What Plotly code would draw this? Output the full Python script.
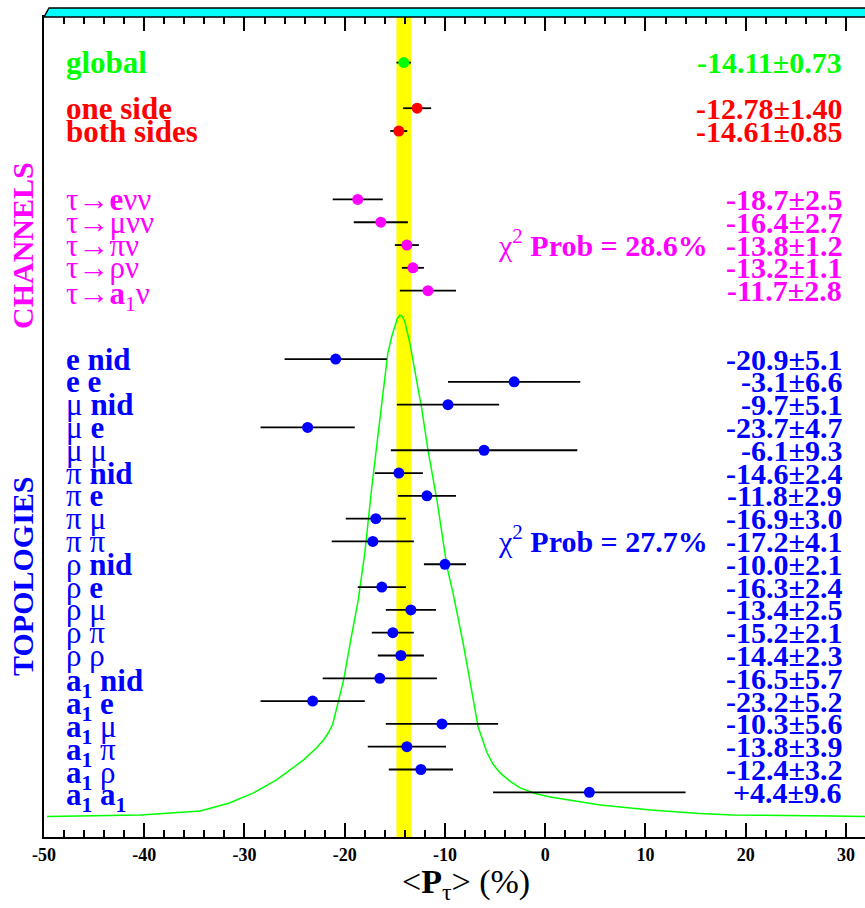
import plotly.graph_objects as go

# ---------------- data ----------------
global_labels = ["global"]
global_vals = [-14.11]
global_errs = [0.73]

side_labels = ["one side", "both sides"]
side_vals = [-12.78, -14.61]
side_errs = [1.40, 0.85]

channel_labels = ["τ→<b>e</b>νν", "τ→μνν", "τ→πν", "τ→ρν", "τ→<b>a</b><sub>1</sub>ν"]
channel_vals = [-18.7, -16.4, -13.8, -13.2, -11.7]
channel_errs = [2.5, 2.7, 1.2, 1.1, 2.8]
channel_chi2 = "28.6%"

topo_labels = ["<b>e nid</b>", "<b>e e</b>", "μ <b>nid</b>", "μ <b>e</b>", "μ μ",
               "π <b>nid</b>", "π <b>e</b>", "π μ", "π π",
               "ρ <b>nid</b>", "ρ <b>e</b>", "ρ μ", "ρ π", "ρ ρ",
               "<b>a<sub>1</sub> nid</b>", "<b>a<sub>1</sub> e</b>", "<b>a<sub>1</sub></b> μ",
               "<b>a<sub>1</sub></b> π", "<b>a<sub>1</sub></b> ρ", "<b>a<sub>1</sub> a<sub>1</sub></b>"]
topo_vals = [-20.9, -3.1, -9.7, -23.7, -6.1, -14.6, -11.8, -16.9, -17.2, -10.0,
             -16.3, -13.4, -15.2, -14.4, -16.5, -23.2, -10.3, -13.8, -12.4, 4.4]
topo_errs = [5.1, 6.6, 5.1, 4.7, 9.3, 2.4, 2.9, 3.0, 4.1, 2.1,
             2.4, 2.5, 2.1, 2.3, 5.7, 5.2, 5.6, 3.9, 3.2, 9.6]
topo_chi2 = "27.7%"

# combined probability curve (height relative to peak)
curve_x = [-49.7, -40.4, -34.4, -31.5, -29.1, -26.8, -24.1, -22.8, -22.1, -21.6, -21.2, -20.7,
           -20.1, -19.4, -18.65, -18.0, -17.3, -16.5, -15.7, -15.3, -15.0, -14.75, -14.5, -14.25, -14.0,
           -13.5, -12.3, -11.7, -10.8, -9.8, -9.2, -8.2, -7.3, -6.7, -6.2, -5.8,
           -5.2, -4.5, -3.5, -2.5, -1.0, 0.5, 5.5, 10.5, 15.4, 18.7, 28.7, 31.9]
curve_y = [0.0, 0.003, 0.011, 0.027, 0.047, 0.073, 0.113, 0.137, 0.153, 0.168, 0.184, 0.227,
           0.273, 0.352, 0.432, 0.525, 0.657, 0.791, 0.924, 0.958, 0.980, 0.993, 1.0, 0.997, 0.986,
           0.944, 0.811, 0.731, 0.631, 0.498, 0.446, 0.347, 0.247, 0.179, 0.150, 0.127,
           0.104, 0.087, 0.070, 0.057, 0.046, 0.039, 0.023, 0.013, 0.006, 0.003, 0.001, 0.0]

x_tick_vals = [-50, -40, -30, -20, -10, 0, 10, 20, 30]
x_tick_text = ["-50", "-40", "-30", "-20", "-10", "0", "10", "20", "30"]

# ---------------- layout helpers ----------------
GREEN, RED, MAG, BLUE = "#00ff00", "#ff0000", "#ff00ff", "#0000ff"
FONT = "Liberation Serif"
W, H = 865, 908
ML, MR, MT, MB = 44, 0, 17, 71

# row positions (rows of the list)
global_rows = [-13]
side_rows = [-11 + i for i in range(len(side_labels))]
channel_rows = [-7 + i for i in range(len(channel_labels))]
topo_rows = [0 + i for i in range(len(topo_labels))]

fig = go.Figure()

# curve on primary y
fig.add_trace(go.Scatter(x=curve_x, y=curve_y, mode="lines", line=dict(color=GREEN, width=1.5),
                         yaxis="y", hoverinfo="skip", showlegend=False))


def add_points(vals, errs, rows, color):
    fig.add_trace(go.Scatter(
        x=vals, y=rows, mode="markers", yaxis="y2",
        marker=dict(color=color, size=11, line=dict(width=0)),
        error_x=dict(type="data", array=errs, color="black", thickness=1.8, width=0),
        showlegend=False))


add_points(global_vals, global_errs, global_rows, GREEN)
add_points(side_vals, side_errs, side_rows, RED)
add_points(channel_vals, channel_errs, channel_rows, MAG)
add_points(topo_vals, topo_errs, topo_rows, BLUE)

ann = []
LX = (64 - ML) / (W - ML - MR)
RX = (844 - ML) / (W - ML - MR)


def label(text, row, color, size=31, shift=0):
    ann.append(dict(text=text, x=LX, xref="paper", y=row, yref="y2", xanchor="left", yanchor="middle",
                    showarrow=False, yshift=shift, font=dict(family=FONT, size=size, color=color)))


def value(text, row, color):
    ann.append(dict(text="<b>" + text + "</b>", x=RX, xref="paper", y=row, yref="y2", xanchor="right",
                    yanchor="middle", showarrow=False, font=dict(family=FONT, size=30, color=color)))


for lab, v, e, r in zip(global_labels, global_vals, global_errs, global_rows):
    label("<b>" + lab + "</b>", r, GREEN)
    value(f"{v:.2f}±{e:.2f}", r, GREEN)
for lab, v, e, r in zip(side_labels, side_vals, side_errs, side_rows):
    label("<b>" + lab + "</b>", r, RED)
    value(f"{v:.2f}±{e:.2f}", r, RED)
for lab, v, e, r in zip(channel_labels, channel_vals, channel_errs, channel_rows):
    label(lab, r, MAG, shift=(-5 if "<sub>" in lab else 0))
    value(f"{v:.1f}±{e:.1f}", r, MAG)
for lab, v, e, r in zip(topo_labels, topo_vals, topo_errs, topo_rows):
    label(lab, r, BLUE, shift=(-5 if "<sub>" in lab else 0))
    txt = f"{v:+.1f}±{e:.1f}" if v > 0 else f"{v:.1f}±{e:.1f}"
    value(txt, r, BLUE)

# chi2 annotations
CX = (496 - ML) / (W - ML - MR)
ann.append(dict(text="χ<sup>2</sup> <b>Prob = " + channel_chi2 + "</b>", x=CX, xref="paper", y=channel_rows[2],
                yref="y2", xanchor="left", yanchor="middle", showarrow=False, yshift=2,
                font=dict(family=FONT, size=30, color=MAG)))
ann.append(dict(text="χ<sup>2</sup> <b>Prob = " + topo_chi2 + "</b>", x=CX, xref="paper", y=topo_rows[8],
                yref="y2", xanchor="left", yanchor="middle", showarrow=False, yshift=2,
                font=dict(family=FONT, size=30, color=BLUE)))

# group titles (vertical)
PW, PH = W - ML - MR, H - MT - MB
ann.append(dict(text="<b>CHANNELS</b>", x=(22 - ML) / PW, xref="paper", y=(H - MB - 246) / PH, yref="paper",
                textangle=-90, showarrow=False, xanchor="center", yanchor="middle",
                font=dict(family=FONT, size=30, color=MAG)))
ann.append(dict(text="<b>TOPOLOGIES</b>", x=(22 - ML) / PW, xref="paper", y=(H - MB - 576) / PH, yref="paper",
                textangle=-90, showarrow=False, xanchor="center", yanchor="middle",
                font=dict(family=FONT, size=30, color=BLUE)))

# x axis title
ann.append(dict(text="&lt;<b>P</b><sub>τ</sub>&gt; (%)", x=(466 - ML) / PW, xref="paper", y=(H - MB - 884) / PH,
                yref="paper", showarrow=False, xanchor="center", yanchor="middle",
                font=dict(family=FONT, size=34, color="black")))

shapes = [
    dict(type="rect", xref="x", yref="paper", x0=global_vals[0] - global_errs[0], x1=global_vals[0] + global_errs[0],
         y0=0, y1=1, fillcolor="#ffff00", line=dict(width=0), layer="below"),
    dict(type="path", xref="paper", yref="paper",
         path=f"M 0 1 L {5/PW} {1+9/PH} L 1.02 {1+9/PH} L 1.02 1 Z",
         fillcolor="#00ffff", line=dict(color="black", width=1.5), layer="above"),
]

fig.update_layout(
    width=W, height=H, margin=dict(l=ML, r=MR, t=MT, b=MB),
    paper_bgcolor="white", plot_bgcolor="white",
    showlegend=False,
    annotations=ann, shapes=shapes,
    xaxis=dict(range=[-50, 31.9], showgrid=False, zeroline=False, showline=True, linecolor="black", linewidth=2,
               mirror="ticks", ticks="inside", ticklen=14, tickwidth=1.5, tickcolor="black",
               tickvals=x_tick_vals, ticktext=x_tick_text,
               minor=dict(dtick=2, ticks="inside", ticklen=7, tickwidth=1.5, tickcolor="black", showgrid=False),
               tickfont=dict(family=FONT, size=18, color="black", weight="bold")),
    yaxis=dict(range=[-(837 - 816.5) / 501.5, (816.5 - 17) / 501.5], showgrid=False, zeroline=False,
               showticklabels=False, ticks="", showline=True, linecolor="black", linewidth=2),
    yaxis2=dict(range=[20.96, -15.0], overlaying="y", showgrid=False, zeroline=False,
                showticklabels=False, ticks="", showline=False),
)

fig.write_html("out.html")
